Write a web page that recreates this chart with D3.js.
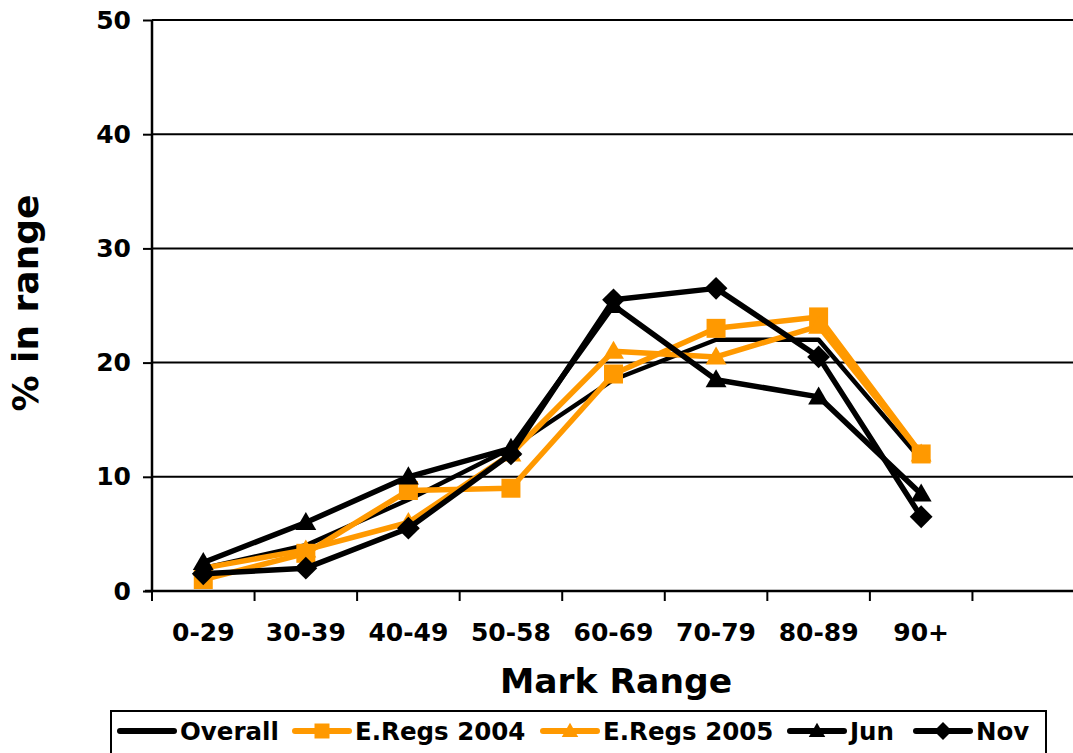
<!DOCTYPE html>
<html>
<head>
<meta charset="utf-8">
<script src="https://d3js.org/d3.v7.min.js"></script>
<style>
body { margin: 0; background: #fff; font-family: 'DejaVu Sans', Verdana, sans-serif; }
svg { display: block; }
</style>
</head>
<body>
<svg id="chart" width="1073" height="753"></svg>
<script>
var categories = ["0-29", "30-39", "40-49", "50-58", "60-69", "70-79", "80-89", "90+", ""];
var yTicks = [0, 10, 20, 30, 40, 50];

var overall = [2, 4, 8, 12.5, 18.5, 22, 22, 11.5];
var eregs2004 = [1, 3.3, 8.8, 9, 19, 23, 24, 12];
var eregs2005 = [2, 3.6, 6, 12, 21, 20.5, 23.2, 12];
var jun = [2.5, 6, 10, 12.5, 25, 18.5, 17, 8.5];
var nov = [1.5, 2, 5.5, 12, 25.5, 26.5, 20.5, 6.5];

var seriesNames = ["Overall", "E.Regs 2004", "E.Regs 2005", "Jun", "Nov"];
var seriesValues = [overall, eregs2004, eregs2005, jun, nov];
var seriesColors = ["#000000", "#ff9900", "#ff9900", "#000000", "#000000"];
var seriesMarkers = ["none", "square", "triangle", "triangle", "diamond"];

var svg = d3.select("#chart");

var x = d3.scaleBand().domain(categories).range([152, 1075]).padding(0);
var y = d3.scaleLinear().domain([0, 50]).range([591, 20]);

// gridlines
svg.append("g")
  .selectAll("line")
  .data(yTicks.slice(1))
  .join("line")
  .attr("x1", 152).attr("x2", 1075)
  .attr("y1", function (d) { return y(d); })
  .attr("y2", function (d) { return y(d); })
  .attr("stroke", "#000").attr("stroke-width", 2);

// y axis
var yAxis = svg.append("g")
  .attr("transform", "translate(152,0)")
  .call(d3.axisLeft(y).tickValues(yTicks).tickSize(9).tickPadding(12));
yAxis.select(".domain").attr("stroke-width", 2.5).attr("d", "M0," + y(0) + "V" + y(50));
yAxis.selectAll(".tick line").attr("stroke-width", 2);
yAxis.selectAll("text")
  .attr("font-family", "'DejaVu Sans', Verdana, sans-serif")
  .attr("font-weight", "bold").attr("font-size", 25).attr("fill", "#000");

// x axis
svg.append("line")
  .attr("x1", 145).attr("x2", 1075)
  .attr("y1", y(0)).attr("y2", y(0))
  .attr("stroke", "#000").attr("stroke-width", 2.5);
svg.append("g")
  .selectAll("line")
  .data(categories)
  .join("line")
  .attr("x1", function (d) { return x(d); })
  .attr("x2", function (d) { return x(d); })
  .attr("y1", y(0)).attr("y2", y(0) + 10)
  .attr("stroke", "#000").attr("stroke-width", 2);
svg.append("g")
  .selectAll("text")
  .data(categories)
  .join("text")
  .attr("x", function (d) { return x(d) + x.bandwidth() / 2; })
  .attr("y", 641)
  .attr("text-anchor", "middle")
  .attr("font-weight", "bold").attr("font-size", 25)
  .text(function (d) { return d; });

// axis titles
svg.append("text")
  .attr("transform", "translate(38,303) rotate(-90)")
  .attr("text-anchor", "middle")
  .attr("font-weight", "bold").attr("font-size", 36)
  .text("% in range");
svg.append("text")
  .attr("x", 616).attr("y", 693)
  .attr("text-anchor", "middle")
  .attr("font-weight", "bold").attr("font-size", 34.5)
  .text("Mark Range");

function markerPath(type, s) {
  if (type === "square") return "M" + (-s / 2) + "," + (-s / 2) + "h" + s + "v" + s + "h" + (-s) + "Z";
  if (type === "triangle") return "M0," + (-s * 0.55) + "L" + (s * 0.55) + "," + (s * 0.4) + "L" + (-s * 0.55) + "," + (s * 0.4) + "Z";
  if (type === "diamond") return "M0," + (-s * 0.6) + "L" + (s * 0.6) + ",0L0," + (s * 0.6) + "L" + (-s * 0.6) + ",0Z";
  return "";
}

var line = d3.line()
  .x(function (d, i) { return x(categories[i]) + x.bandwidth() / 2; })
  .y(function (d) { return y(d); });

seriesValues.forEach(function (vals, k) {
  var g = svg.append("g");
  g.append("path")
    .attr("d", line(vals))
    .attr("fill", "none")
    .attr("stroke", seriesColors[k])
    .attr("stroke-width", k === 0 ? 4.5 : 5.5)
    .attr("stroke-linejoin", "round");
  if (seriesMarkers[k] !== "none") {
    g.selectAll("path.m")
      .data(vals)
      .join("path")
      .attr("class", "m")
      .attr("transform", function (d, i) {
        return "translate(" + (x(categories[i]) + x.bandwidth() / 2) + "," + y(d) + ")";
      })
      .attr("d", markerPath(seriesMarkers[k], 19))
      .attr("fill", seriesColors[k]);
  }
});

// legend
svg.append("rect")
  .attr("x", 111).attr("y", 711).attr("width", 935).attr("height", 60)
  .attr("fill", "#fff").attr("stroke", "#000").attr("stroke-width", 2);

var legendX = [117, 292, 540, 787, 913];
seriesNames.forEach(function (name, k) {
  var lg = svg.append("g").attr("transform", "translate(" + legendX[k] + ",731)");
  lg.append("line")
    .attr("x1", 3).attr("x2", 57)
    .attr("stroke", seriesColors[k]).attr("stroke-width", 6)
    .attr("stroke-linecap", "round");
  if (seriesMarkers[k] !== "none") {
    lg.append("path")
      .attr("transform", "translate(30,0)")
      .attr("d", markerPath(seriesMarkers[k], 15))
      .attr("fill", seriesColors[k]);
  }
  lg.append("text")
    .attr("x", 63).attr("y", 9)
    .attr("font-weight", "bold").attr("font-size", 24.5)
    .text(name);
});
</script>
</body>
</html>
